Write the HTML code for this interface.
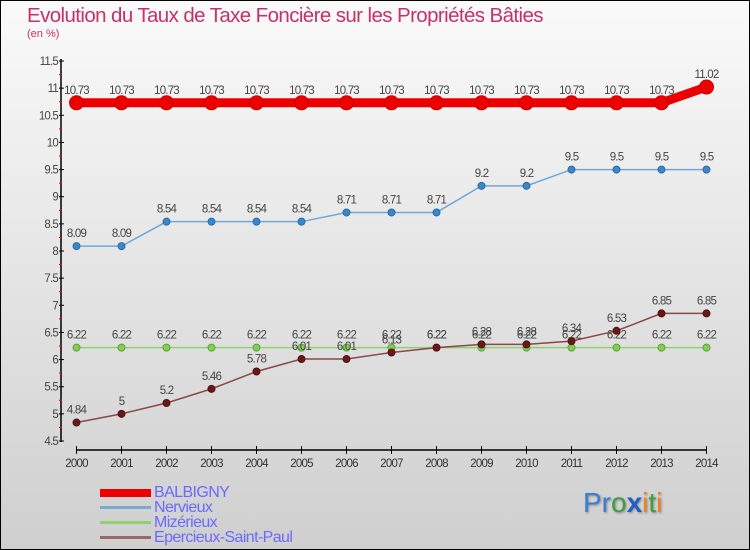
<!DOCTYPE html>
<html><head><meta charset="utf-8"><style>
body{margin:0}
#c{position:relative;width:748px;height:548px;border:1px solid #000;background:linear-gradient(#fafafa,#cfcfcf);font-family:"Liberation Sans",sans-serif;overflow:hidden}
</style></head><body>
<div id="c">
<div style="position:absolute;left:26px;top:3px;font-size:20.5px;color:#c8306a;letter-spacing:-0.6px">Evolution du Taux de Taxe Foncière sur les Propriétés Bâties</div>
<div style="position:absolute;left:26px;top:27px;font-size:11px;color:#c8306a">(en %)</div>
<svg id="s" width="748" height="548" style="position:absolute;left:0;top:0" font-family="Liberation Sans, sans-serif"></svg>
<div style="position:absolute;left:99px;top:484px;font-size:16px;color:#6a6aff;line-height:15px;letter-spacing:-0.6px">
<div><span style="display:inline-block;width:51px;height:8px;background:#e00;margin-right:3px;vertical-align:middle"></span>BALBIGNY</div>
<div><span style="display:inline-block;width:51px;height:3px;background:#7aaad0;margin-right:3px;vertical-align:middle"></span>Nervieux</div>
<div><span style="display:inline-block;width:51px;height:3px;background:#90d070;margin-right:3px;vertical-align:middle"></span>Mizérieux</div>
<div><span style="display:inline-block;width:51px;height:3px;background:#9a6868;margin-right:3px;vertical-align:middle"></span>Epercieux-Saint-Paul</div>
</div>
<div style="position:absolute;left:582px;top:486px;font-size:28px;text-shadow:1px 1px 2px #888"><span style="color:#3a80d0">Pr</span><span style="color:#40a040">o</span><span style="color:#2060c0;font-weight:bold">x</span><span style="color:#f08020">i</span><span style="color:#40a040">t</span><span style="color:#f08020">i</span></div>
</div>
<script>
const years=[2000,2001,2002,2003,2004,2005,2006,2007,2008,2009,2010,2011,2012,2013,2014];
const balbigny=[10.73,10.73,10.73,10.73,10.73,10.73,10.73,10.73,10.73,10.73,10.73,10.73,10.73,10.73,11.02];
const nervieux=[8.09,8.09,8.54,8.54,8.54,8.54,8.71,8.71,8.71,9.2,9.2,9.5,9.5,9.5,9.5];
const mizerieux=[6.22,6.22,6.22,6.22,6.22,6.22,6.22,6.22,6.22,6.22,6.22,6.22,6.22,6.22,6.22];
const epercieux=[4.84,5,5.2,5.46,5.78,6.01,6.01,6.13,6.22,6.28,6.28,6.34,6.53,6.85,6.85];
const yTicks=[4.5,5,5.5,6,6.5,7,7.5,8,8.5,9,9.5,10,10.5,11,11.5];
const s=document.getElementById('s');const NS='http://www.w3.org/2000/svg';
function X(i){return 75.5+i*45;}
function Y(v){return 440-(v-4.5)*380/7;}
function el(t,a,p){const e=document.createElementNS(NS,t);for(const k in a)e.setAttribute(k,a[k]);(p||s).appendChild(e);return e;}
let ax=el('line',{x1:60,y1:58,x2:60,y2:441,stroke:'#000','stroke-width':1.5});

yTicks.forEach((t,i)=>{el('line',{x1:58,x2:63,y1:Y(t),y2:Y(t),stroke:'#000'});
 if(i<yTicks.length-1)el('line',{x1:58,x2:61,y1:Y(t+0.25),y2:Y(t+0.25),stroke:'#e00'});
 const tx=el('text',{x:57,y:Y(t)+4,'text-anchor':'end','font-size':11.5,fill:'#444','letter-spacing':'-0.8'});tx.textContent=String(t);
 });
let xa=el('line',{x1:X(0),x2:X(14),y1:449,y2:449,stroke:'#000','stroke-width':1.5});

years.forEach((y,i)=>{el('line',{x1:X(i),x2:X(i),y1:445,y2:453,stroke:'#000'});
 const tx=el('text',{x:X(i),y:466,'text-anchor':'middle','font-size':11.5,fill:'#333','letter-spacing':'-0.8'});tx.textContent=y;
 });
function series(name,vals,color,w,r,fill,stroke){
 const g=el('g',{});
 el('polyline',{points:vals.map((v,i)=>X(i)+','+Y(v)).join(' '),fill:'none',stroke:color,'stroke-width':w},g);
 vals.forEach((v,i)=>{const c=el('circle',{cx:X(i),cy:Y(v),r:r,fill:fill,stroke:stroke,'stroke-width':1},g);
  
  const t=el('text',{x:X(i),y:Y(v)-9,'text-anchor':'middle','font-size':11.5,fill:'#444','letter-spacing':'-0.8'},g);t.textContent=String(v);});}
series('mizerieux',mizerieux,'#90d070',1.5,3.5,'#80d050','#60a040');
series('epercieux',epercieux,'#8a4848',1.5,3.5,'#6a1818','#501010');
series('nervieux',nervieux,'#70a8d8',1.5,3.5,'#3a88c8','#2a68a8');
series('balbigny',balbigny,'#ee0000',9,7,'#ee0000','#c00');
</script>
</body></html>
